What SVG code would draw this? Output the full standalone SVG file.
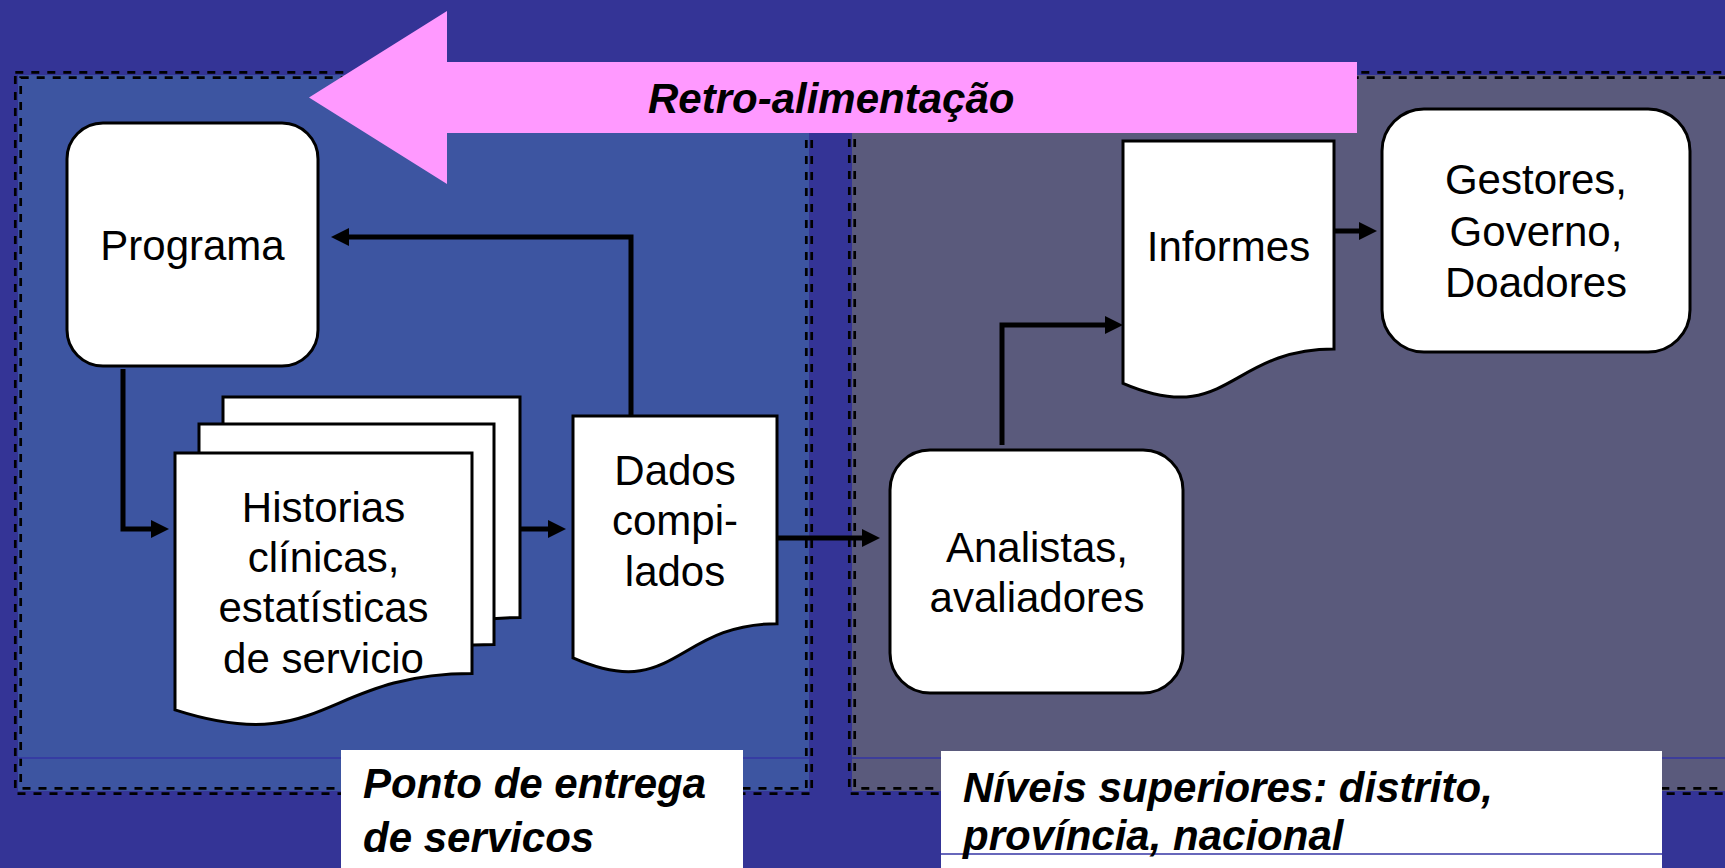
<svg xmlns="http://www.w3.org/2000/svg" width="1725" height="868" viewBox="0 0 1725 868">
<style>
.node{fill:#fff;stroke:#000;stroke-width:3}
.lbl{font-family:"Liberation Sans",Arial,sans-serif;font-size:42px;fill:#000;text-anchor:middle}
.bi{font-family:"Liberation Sans",Arial,sans-serif;font-size:42px;fill:#000;font-weight:bold;font-style:italic}
.conn{fill:none;stroke:#000;stroke-width:5;stroke-linejoin:miter;marker-end:url(#ah)}
.dash{fill:none;stroke:#000;stroke-width:2.7;stroke-dasharray:8 8}
.thin{stroke:#3434a4;stroke-width:1.5}
</style>
<defs>
<marker id="ah" markerUnits="userSpaceOnUse" markerWidth="19" markerHeight="18" refX="0" refY="9" orient="auto">
<path d="M0,0 L18,9 L0,18 z" fill="#000"/>
</marker>
</defs>
<rect x="0" y="0" width="1725" height="868" fill="#343496"/>
<g id="panel-left">
<rect x="18" y="75" width="791" height="716" fill="#3d55a1"/>
<rect class="dash" x="15.3" y="72.3" width="796.4" height="721.4"/>
<rect class="dash" x="20.7" y="77.7" width="785.6" height="710.6"/>
<line class="thin" x1="18" y1="758" x2="809" y2="758"/>
</g>
<g id="panel-right">
<rect x="852" y="75" width="880" height="716" fill="#5a5a7c"/>
<rect class="dash" x="849.3" y="72.3" width="900" height="721.4"/>
<rect class="dash" x="854.7" y="77.7" width="900" height="710.6"/>
<line class="thin" x1="852" y1="758" x2="1725" y2="758"/>
</g>
<g id="feedback">
<polygon points="309,97.5 447,11 447,62 1357,62 1357,133 447,133 447,184" fill="#ff99ff"/>
<text class="bi" x="648" y="113">Retro-alimentação</text>
</g>
<g id="connectors">
<path class="conn" d="M631,416 V237 H349"/>
<path class="conn" d="M123,369 V529 H151"/>
<path class="conn" d="M520,529 H548"/>
<path class="conn" d="M777,538 H862"/>
<path class="conn" d="M1002,445 V325 H1105"/>
<path class="conn" d="M1334,231 H1359"/>
</g>
<g id="programa">
<rect class="node" x="67" y="123" width="251" height="243" rx="36" ry="36"/>
<text class="lbl" x="192.5" y="260">Programa</text>
</g>
<g id="historias">
<path class="node" d="M223,397 H520 V617.5 C371.5,617.5 371.5,701.6 223,653.9 Z"/>
<path class="node" d="M199,424 H494 V644.5 C346.5,644.5 346.5,728.6 199,680.9 Z"/>
<path class="node" d="M175,453 H472 V673.5 C323.5,673.5 323.5,757.6 175,709.9 Z"/>
<text class="lbl" x="323.5" y="522">Historias</text>
<text class="lbl" x="323.5" y="572">clínicas,</text>
<text class="lbl" x="323.5" y="622">estatísticas</text>
<text class="lbl" x="323.5" y="673">de servicio</text>
</g>
<g id="dados">
<path class="node" d="M573,416 H777 V623.7 C675,623.7 675,702.8 573,657.9 Z"/>
<text class="lbl" x="675" y="485">Dados</text>
<text class="lbl" x="675" y="535">compi-</text>
<text class="lbl" x="675" y="586">lados</text>
</g>
<g id="analistas">
<rect class="node" x="890" y="450" width="293" height="243" rx="40" ry="40"/>
<text class="lbl" x="1037" y="562">Analistas,</text>
<text class="lbl" x="1037" y="612">avaliadores</text>
</g>
<g id="informes">
<path class="node" d="M1123,141 H1334 V349 C1228.5,349 1228.5,428.3 1123,383.3 Z"/>
<text class="lbl" x="1228.5" y="261">Informes</text>
</g>
<g id="gestores">
<rect class="node" x="1382" y="109" width="308" height="243" rx="42" ry="42"/>
<text class="lbl" x="1536" y="194">Gestores,</text>
<text class="lbl" x="1536" y="246">Governo,</text>
<text class="lbl" x="1536" y="297">Doadores</text>
</g>
<g id="label-ponto">
<rect x="341" y="750" width="402" height="130" fill="#fff"/>
<text class="bi" x="363" y="798">Ponto de entrega</text>
<text class="bi" x="363" y="852">de servicos</text>
</g>
<g id="label-niveis">
<rect x="941" y="751" width="721" height="130" fill="#fff"/>
<line class="thin" x1="941" y1="854" x2="1662" y2="854"/>
<text class="bi" x="963" y="802">Níveis superiores: distrito,</text>
<text class="bi" x="963" y="850">província, nacional</text>
</g>
</svg>
